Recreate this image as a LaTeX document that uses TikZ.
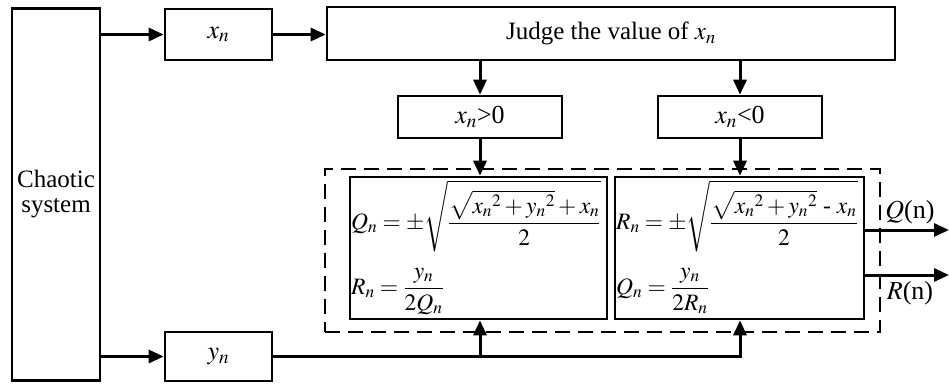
\documentclass[tikz,border=0pt]{standalone}
\usepackage{mathptmx}
\usepackage[no-math]{fontspec}
\setmainfont{Liberation Serif}
\newfontfamily\tms{Liberation Serif}
\usetikzlibrary{arrows.meta}
\begin{document}
\begin{tikzpicture}[x=1pt,y=-1pt,
  box/.style={draw=black,line width=2.6pt,inner sep=0pt,anchor=center},
  arr/.style={line width=3pt,-{Triangle[length=15pt,width=13pt]}},
  dbox/.style={draw=black,line width=2.4pt,dash pattern=on 15pt off 8pt,inner sep=0pt},
  lbl/.style={inner sep=0pt,font=\tms\fontsize{26}{27}\selectfont},
  fml/.style={inner sep=0pt,anchor=base west,font=\tms\fontsize{23.5}{25}\selectfont}]
\useasboundingbox (0,0) rectangle (949,383);
\node[box,minimum width=88pt,minimum height=372pt,align=center,font=\tms\fontsize{25}{25}\selectfont] (chaos) at (56,194.5) {Chaotic\\system};
\node[box,minimum width=107pt,minimum height=51pt,font=\tms\fontsize{26}{26}\selectfont] (xn) at (218.5,34.5) {$x_n$};
\node[box,minimum width=568pt,minimum height=53pt,font=\tms\fontsize{25}{25}\selectfont] (judge) at (611,33.5) {Judge the value of $x_n$};
\node[box,minimum width=164pt,minimum height=42pt,font=\tms\fontsize{26}{26}\selectfont] (gt) at (480,117) {$x_n$>0};
\node[box,minimum width=164pt,minimum height=42pt,font=\tms\fontsize{26}{26}\selectfont] (lt) at (740,117) {$x_n$<0};
\node[dbox,minimum width=555pt,minimum height=163pt] (dash) at (602.5,250.5) {};
\node[box,minimum width=257pt,minimum height=142pt] (F1) at (478.5,248) {};
\node[box,minimum width=249pt,minimum height=142pt] (F2) at (739.5,248) {};
\node[box,minimum width=107pt,minimum height=49pt,font=\tms\fontsize{26}{26}\selectfont] (yn) at (218.5,356.5) {$y_n$};
% formulas
\node[fml] (q1) at (351,229) {$Q_n=\pm\sqrt{\displaystyle\frac{\sqrt{x_n{}^2+y_n{}^2}+x_n}{2}}$};
\node[fml] (r1) at (351,294) {$R_n=\displaystyle\frac{y_n}{2Q_n}$};
\node[fml] (r2) at (616,229) {$R_n=\pm\sqrt{\displaystyle\frac{\sqrt{x_n{}^2+y_n{}^2}\ \mbox{-}\ x_n}{2}}$};
\node[fml] (q2) at (616,294) {$Q_n=\displaystyle\frac{y_n}{2R_n}$};
% connectors
\draw[arr] (xn.west -| chaos.east) -- (xn.west);
\draw[arr] (xn.east) -- (xn.east -| judge.west);
\draw[arr] (judge.south -| gt.north) -- (gt.north);
\draw[arr] (judge.south -| lt.north) -- (lt.north);
\draw[arr] (gt.south) -- (gt.south |- F1.north);
\draw[arr] (lt.south) -- (lt.south |- F2.north);
\draw[arr] (yn.west -| chaos.east) -- (yn.west);
\draw[arr] (yn.east) -| (lt.south |- F2.south);
\draw[arr] (yn.east -| gt.south) -- (gt.south |- F1.south);
\coordinate (qe) at (949,230);
\coordinate (re) at (949,275);
\draw[arr] (qe -| F2.east) -- (qe);
\draw[arr] (re -| F2.east) -- (re);
\node[lbl] (ql) at (910,212) {$Q$(n)};
\node[lbl] (rl) at (910,293) {$R$(n)};
\end{tikzpicture}
\end{document}
